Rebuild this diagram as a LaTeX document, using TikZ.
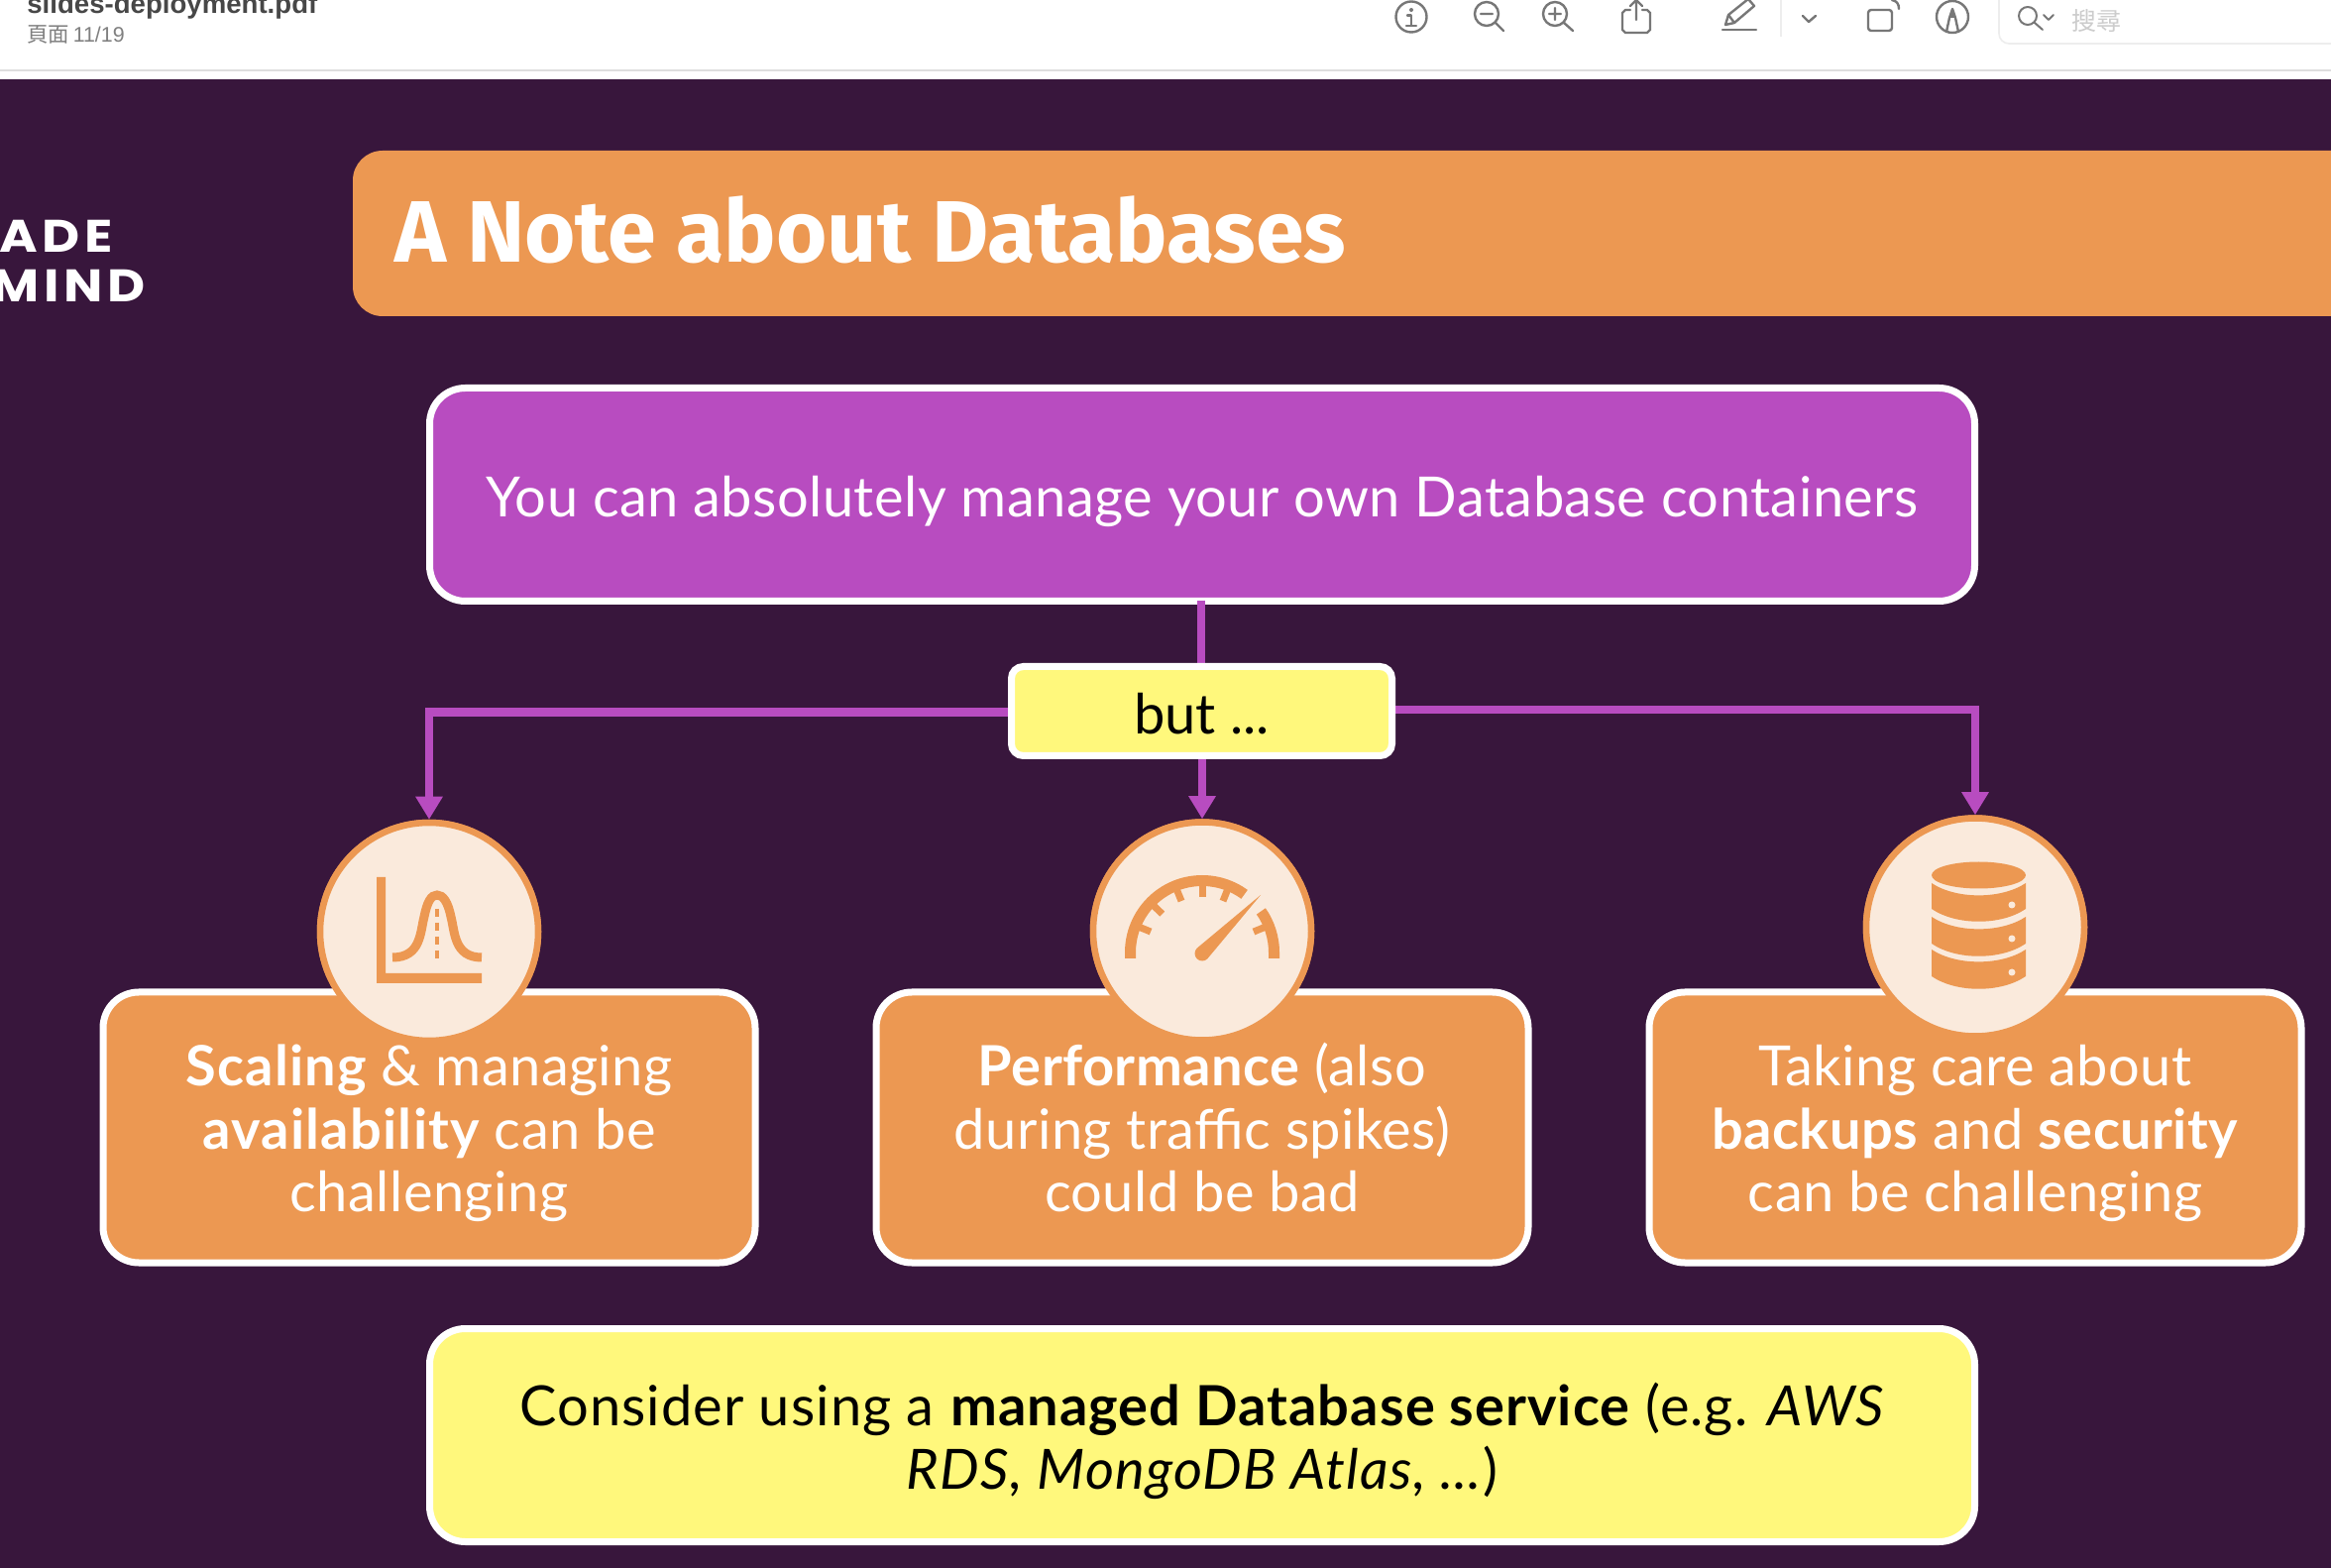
\documentclass[tikz,border=0pt]{standalone}
\usepackage{fontspec}
\usetikzlibrary{arrows.meta,shapes.geometric}
\setmainfont[LetterSpace=0.8]{Lato}
\newfontfamily\titlefont{Fira Sans}
\newfontfamily\logofont[LetterSpace=10,FakeStretch=1.14]{Poppins}
\newfontfamily\uifont{Liberation Sans}
\newfontfamily\cjkfont{Noto Sans CJK TC}
\definecolor{dark}{HTML}{38163C}
\definecolor{orangeb}{HTML}{EC9852}
\definecolor{purpleb}{HTML}{B84CC0}
\definecolor{yellowb}{HTML}{FFF87C}
\definecolor{cream}{HTML}{FAEADC}
\definecolor{uigray}{HTML}{777777}
\newcommand\upstrut[1]{\rule{0pt}{#1pt}}
\newcommand\downstrut[1]{\rule[-#1pt]{0pt}{#1pt}}
\newcommand\widebf[1]{{\addfontfeatures{LetterSpace=2.2}\bfseries #1}}
\tikzset{
  x=0.5pt,y=-0.5pt,
  bodyfont/.style={font=\fontsize{28}{31.8}\selectfont},
  panel/.style={draw=white,line width=3.5pt,rounded corners=18pt,align=center,inner sep=0pt,outer sep=0pt,bodyfont},
  purplepanel/.style={panel,fill=purpleb,text=white,minimum width=779.5pt,minimum height=107.5pt},
  yellowpanel/.style={panel,fill=yellowb,text=black,minimum width=779.5pt,minimum height=107.5pt},
  orangepanel/.style={panel,fill=orangeb,text=white,minimum width=329pt,minimum height=136.5pt},
  butpanel/.style={panel,fill=yellowb,text=black,rounded corners=6pt,minimum width=192pt,minimum height=45pt},
  badge/.style={circle,draw=orangeb,fill=cream,line width=3.25pt,minimum size=110pt,inner sep=0pt},
  link/.style={draw=purpleb,line width=4.3pt},
  linkarrow/.style={link,-{Triangle[width=13pt,length=11.5pt]}},
  iconline/.style={draw=orangeb,line width=4.5pt},
  uiline/.style={draw=uigray,line width=1.2pt,line cap=round,line join=round},
}
\begin{document}
\begin{tikzpicture}
\useasboundingbox (0,0) rectangle (2352,1582);
\clip (0,0) rectangle (2352,1582);
% window chrome
\fill[white] (0,0) rectangle (2352,80);
\fill[black!13] (0,70) rectangle (2352,72);
\node[anchor=base west,inner sep=0pt,text=black!72,font=\uifont\bfseries\fontsize{13.8}{16}\selectfont] (fname) at (27,14) {slides-deployment.pdf};
\node[anchor=base west,inner sep=0pt,text=black!50,font=\fontsize{10.7}{13}\selectfont] (fpage) at (27,43) {{\cjkfont 頁面}\,{\uifont 11/19}};
% toolbar
\draw[uiline] (1424,17) circle (15.5);
\fill[uigray] (1424,10) circle (2);
\draw[uiline] (1420,15.5) -- (1424,15.5) -- (1424,26) (1419,26) -- (1429,26);
\draw[uiline] (1500,14) circle (12) (1509,23) -- (1517,31) (1494,14) -- (1506,14);
\draw[uiline] (1569,14) circle (12) (1578,23) -- (1587,31) (1563,14) -- (1575,14) (1569,8) -- (1569,20);
\draw[uiline] (1645,10) -- (1640,10) -- (1637,13) -- (1637,30) -- (1640,33) -- (1662,33) -- (1665,30) -- (1665,13) -- (1662,10) -- (1657,10);
\draw[uiline] (1651,20) -- (1651,1) (1645,6) -- (1651,0) -- (1657,6);
\draw[uiline] (1738,30) -- (1772,30);
\draw[uiline] (1741,25) -- (1744,15) -- (1764,-1) -- (1770,6) -- (1750,23) -- cycle (1744,15) -- (1750,23);
\draw[black!7,line width=0.8pt] (1797,0) -- (1797,37);
\draw[uiline] (1819,16) -- (1825,22) -- (1832,16);
\draw[uiline,rounded corners=1.5pt] (1909,10) -- (1885,10) -- (1885,31) -- (1909,31) -- cycle;
\draw[uiline] (1909,0) .. controls (1914,1) and (1916,4) .. (1916,9);
\draw[uiline] (1970,17) circle (16);
\draw[uiline] (1964,32) -- (1967,18) -- (1970,9) -- (1973,18) -- (1976,32);
\fill[uigray] (1967,18) -- (1970,9) -- (1973,18) -- cycle;
\draw[black!7,line width=0.8pt,rounded corners=5pt] (2017,0) -- (2017,44) -- (2360,44);
\draw[uiline,line width=1pt] (2046,16) circle (9) (2053,23) -- (2061,30);
\draw[uiline,line width=1pt] (2062,15) -- (2067,20) -- (2072,15);
\node[text=black!20,inner sep=0pt,font=\cjkfont\fontsize{12.5}{14}\selectfont] (search) at (2115,21) {搜尋};
% slide
\fill[dark] (0,80) rectangle (2352,1582);
\fill[orangeb,rounded corners=15pt] (356,152) rectangle (2480,319);
\node[anchor=base west,inner sep=0pt,text=white,font=\titlefont\bfseries\fontsize{44}{50}\selectfont] (title) at (398,265) {A Note about Databases};
\node[anchor=base east,inner sep=0pt,text=white,font=\logofont\bfseries\fontsize{23}{26}\selectfont] (logoa) at (114,255) {ADE};
\node[anchor=base east,inner sep=0pt,text=white,font=\logofont\bfseries\fontsize{23}{26}\selectfont] (logob) at (147,305) {MIND};
% main panels
\node[purplepanel] (top) at (1213,499) {\upstrut{30}You can absolutely manage your own Database containers\downstrut{7.4}};
% connectors
\coordinate (butN) at (1212,670);
\node[badge] (bL) at (433,940) {};
\node[badge] (bC) at (1213,939.5) {};
\node[badge] (bR) at (1993,935.5) {};
\coordinate (topS) at (1212,606);
\draw[link] (topS) -- (butN);
\coordinate (butWL) at (1020,718.5);
\coordinate (cornerL) at (bL.north |- butWL);
\draw[linkarrow] (butWL) -- (cornerL) -- (bL.north);
\coordinate (butER) at (1405,716);
\coordinate (cornerR) at (bR.north |- butER);
\draw[linkarrow] (butER) -- (cornerR) -- (bR.north);
\coordinate (butSC) at (1213,760);
\draw[linkarrow] (butSC) -- (bC.north);
\node[butpanel] (but) at (1212.5,717.5) {\addfontfeatures{LetterSpace=0}\upstrut{23}but ...};
% orange panels
\node[orangepanel] (pL) at (433,1137.5) {\upstrut{28.5}\widebf{Scaling} \& managing\\\widebf{availability} can be\\challenging\downstrut{7}};
\node[orangepanel] (pC) at (1213,1137.5) {\upstrut{28.5}\textbf{Performance} (also\\during traffic spikes)\\could be bad\downstrut{7}};
\node[orangepanel] (pR) at (1993,1137.5) {\upstrut{28.5}Taking care about\\\textbf{backups} and \textbf{security}\\can be challenging\downstrut{7}};
\node[yellowpanel] (bottom) at (1213,1448) {\addfontfeatures{LetterSpace=1.9}\upstrut{30}Consider using a \textbf{managed Database service} (e.g. \textit{AWS}\\\addfontfeatures{LetterSpace=2.3}\textit{RDS, MongoDB Atlas, ...})\downstrut{7.4}};
% badges on top of the panels
\node[badge] at (bL) {};
\node[badge] at (bC) {};
\node[badge] at (bR) {};
% bell curve icon
\fill[orangeb] (380,885) rectangle (389,992) (380,982) rectangle (486,992);
\draw[iconline] (396,966) .. controls (425,966) and (424,940) .. (428,925) .. controls (431,910) and (435,903) .. (441,903) .. controls (447,903) and (452,910) .. (455,925) .. controls (459,940) and (458,966) .. (486,966);
\draw[orangeb,line width=1.8pt,dash pattern=on 4pt off 3pt] (441,917) -- (441,967);
% gauge icon
\fill[orangeb] (1135,967) -- (1135,961) arc[start angle=180,end angle=306,radius=78] -- ({1213+67*cos(54)},{961-67*sin(54)}) arc[start angle=-54,end angle=-180,radius=67] -- (1146,967) -- cycle;
\fill[orangeb] ({1213+78*cos(35)},{961-78*sin(35)}) arc[start angle=-35,end angle=0,radius=78] -- (1291,967) -- (1280,967) -- (1280,961) arc[start angle=0,end angle=-35,radius=67] -- cycle;
\foreach \a in {22,68,90,112,136,158}{
  \draw[orangeb,line width=3.5pt] ({1213+56*cos(\a)},{961-56*sin(\a)}) -- ({1213+68*cos(\a)},{961-68*sin(\a)});
}
\fill[orangeb] (1272,903) -- (1207.7,956.7) arc[start angle=225,end angle=45,radius=7.5] -- cycle;
% database icon
\fill[orangeb] (1996.5,883) ellipse (47.5 and 13.5);
\foreach \ya/\yb in {891/917,925/952,958/985}{
  \fill[orangeb] (1949,\ya) .. controls (1974,{\ya+16.5}) and (2019,{\ya+16.5}) .. (2044,\ya) -- (2044,\yb) .. controls (2019,{\yb+17}) and (1974,{\yb+17}) .. (1949,\yb) -- cycle;
}
\fill[cream] (2030,913) circle (3.5) (2030,947) circle (3.5) (2030,981) circle (3.5);
\end{tikzpicture}
\end{document}
